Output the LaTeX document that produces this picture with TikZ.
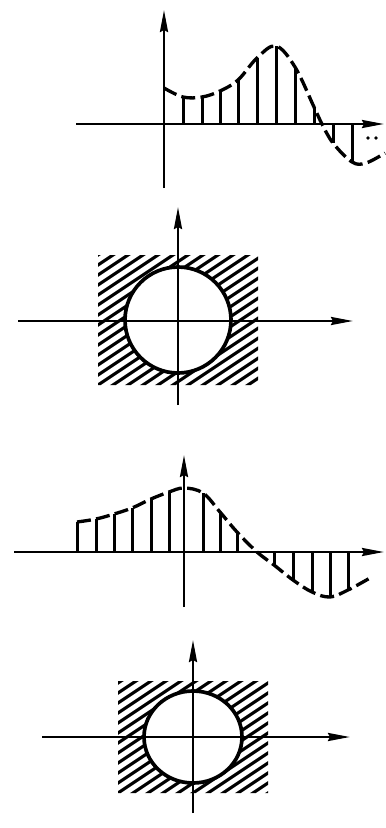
\documentclass[tikz,border=0pt]{standalone}
\usetikzlibrary{arrows.meta}

\begin{document}
\begin{tikzpicture}[
  x=0.3mm, y=-0.3mm,
  axis/.style={line width=0.75mm, draw=black, -{Stealth[length=6.6mm, width=2.4mm, inset=0.6mm]}},
  curve/.style={line width=1mm, draw=black, dash pattern=on 4.2mm off 1.6mm},
  stem/.style={line width=0.9mm, draw=black},
  hatch/.style={line width=0.95mm, draw=black},
  rim/.style={line width=1.1mm, draw=black}
]
\useasboundingbox (0,0) rectangle (385,828);

% Panel 1: signal over the half line
\coordinate (a1l) at (76,124);  \coordinate (a1r) at (384,124);
\coordinate (a1b) at (164,188); \coordinate (a1t) at (164,10);
\foreach \x/\y in {183/97, 202/97, 220/91, 238/80, 257/58, 276/46, 295/67, 314/107, 333/143, 352/162} {
  \draw[stem] (\x,124) -- (\x,\y);
}
\draw[curve] plot[smooth, tension=0.6] coordinates {(164,88) (183,97) (202,97) (220,91) (238,80) (257,58) (276,46) (295,67) (314,107) (322,124) (333,143) (352,162) (366,163) (385,153)};
\fill (368,138) circle[radius=1.8];
\fill (376,138) circle[radius=1.8];
\draw[axis] (a1l) -- (a1r);
\draw[axis] (a1b) -- (a1t);

% Panel 2: hatched square with circular hole
\coordinate (c2) at (178,320);
\begin{scope}[even odd rule]
  \clip (98,255) rectangle (258,385) (c2) circle[radius=53];
  \foreach \k in {-14,...,12} {
    \draw[hatch] (98+15*\k-15,395) -- (98+15*\k+210,245);
  }
\end{scope}
\draw[rim] (c2) circle[radius=53];
\coordinate (a2l) at (18,321);  \coordinate (a2r) at (353,321);
\coordinate (a2b) at (178,405); \coordinate (a2t) at (178,207);
\draw[axis] (a2l) -- (a2r);
\draw[axis] (a2b) -- (a2t);

% Panel 3: signal over the whole line
\coordinate (a3l) at (14,552);  \coordinate (a3r) at (384,552);
\coordinate (a3b) at (184,607); \coordinate (a3t) at (184,455);
\foreach \x/\y in {77/522, 96/519, 114/514, 132/508, 151/499, 169/492, 203/493, 220/512, 237/532, 274/565, 293/580, 312/592, 330/597, 348/590} {
  \draw[stem] (\x,552) -- (\x,\y);
}
\draw[curve] plot[smooth, tension=0.6] coordinates {(77,522) (96,519) (114,514) (132,508) (151,499) (169,492) (184,488) (203,493) (220,512) (237,532) (257,552) (274,565) (293,580) (312,592) (330,597) (348,590) (370,578)};
\draw[axis] (a3l) -- (a3r);
\draw[axis] (a3b) -- (a3t);

% Panel 4: hatched rectangle with elliptic hole
\coordinate (c4) at (193,737);
\begin{scope}[even odd rule]
  \clip (118,681) rectangle (268,793) (c4) ellipse[x radius=49, y radius=46];
  \foreach \k in {-12,...,12} {
    \draw[hatch] (118+15*\k-15,803) -- (118+15*\k+210,653);
  }
\end{scope}
\draw[rim] (c4) ellipse[x radius=49, y radius=46];
\coordinate (a4l) at (42,737);  \coordinate (a4r) at (350,737);
\coordinate (a4b) at (193,813); \coordinate (a4t) at (193,640);
\draw[axis] (a4l) -- (a4r);
\draw[axis] (a4b) -- (a4t);

\end{tikzpicture}
\end{document}
